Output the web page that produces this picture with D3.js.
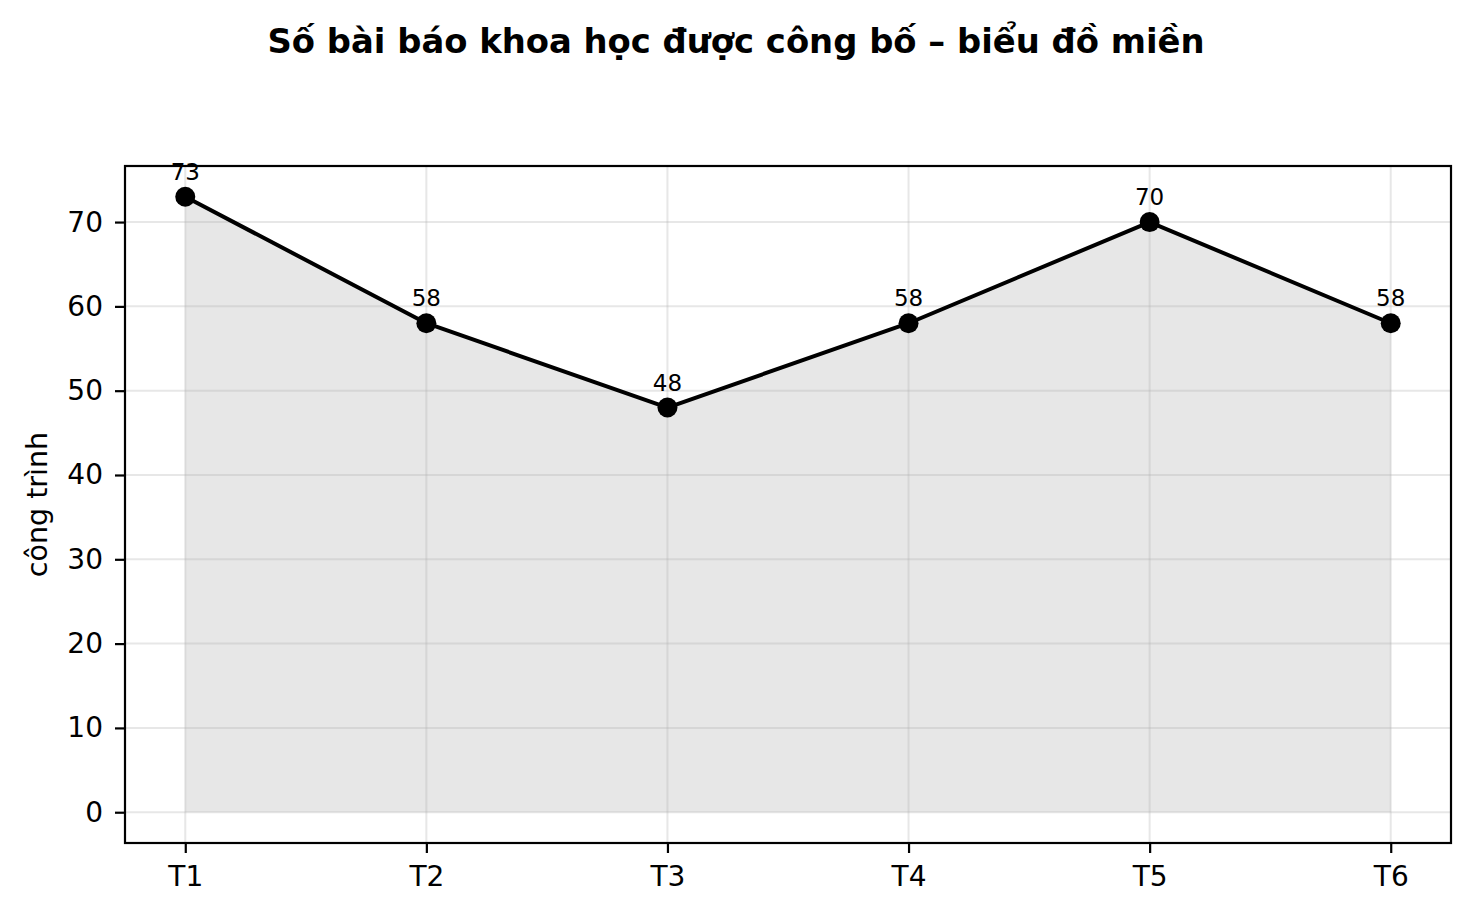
<!DOCTYPE html>
<html lang="vi">
<head>
<meta charset="UTF-8">
<script src="https://d3js.org/d3.v7.min.js"></script>
<style>
  body { margin: 0; background: #fff; font-family: "DejaVu Sans", sans-serif; }
  svg { display: block; }
</style>
</head>
<body>
<svg id="chart" width="1472" height="914"></svg>
<script>
const categories = ["T1", "T2", "T3", "T4", "T5", "T6"];
const values = [73, 58, 48, 58, 70, 58];
const yTicks = [0, 10, 20, 30, 40, 50, 60, 70];

const svg = d3.select("#chart");
const margin = { top: 166, right: 21, bottom: 71, left: 125 };
const W = 1472, H = 914;
const width = W - margin.left - margin.right;
const height = H - margin.top - margin.bottom;

const x = d3.scaleLinear()
    .domain([-0.25, categories.length - 1 + 0.25])
    .range([0, width]);
const y = d3.scaleLinear()
    .domain([-3.65, 76.65])
    .range([height, 0]);

const data = values.map((v, i) => ({ cat: categories[i], i, v }));

svg.append("text")
    .attr("x", W / 2)
    .attr("y", 53)
    .attr("text-anchor", "middle")
    .style("font-size", "33.8px")
    .style("font-weight", "bold")
    .text("Số bài báo khoa học được công bố – biểu đồ miền");

const g = svg.append("g").attr("transform", `translate(${margin.left},${margin.top})`);

// area fill
g.append("path")
    .datum(data)
    .attr("fill", "#e7e7e7")
    .attr("d", d3.area().x(d => x(d.i)).y0(y(0)).y1(d => y(d.v)));

// grid
const grid = g.append("g").attr("stroke", "rgba(176,176,176,0.3)").attr("stroke-width", 2);
grid.selectAll(".gx").data(categories).enter().append("line")
    .attr("x1", (d, i) => x(i)).attr("x2", (d, i) => x(i))
    .attr("y1", 0).attr("y2", height);
grid.selectAll(".gy").data(yTicks).enter().append("line")
    .attr("x1", 0).attr("x2", width)
    .attr("y1", d => y(d)).attr("y2", d => y(d));

// line
g.append("path")
    .datum(data)
    .attr("fill", "none")
    .attr("stroke", "#000")
    .attr("stroke-width", 4)
    .attr("stroke-linejoin", "round")
    .attr("d", d3.line().x(d => x(d.i)).y(d => y(d.v)));

g.selectAll(".dot").data(data).enter().append("circle")
    .attr("cx", d => x(d.i))
    .attr("cy", d => y(d.v))
    .attr("r", 10)
    .attr("fill", "#000");

g.selectAll(".lbl").data(data).enter().append("text")
    .attr("x", d => x(d.i))
    .attr("y", d => y(d.v) - 17)
    .attr("text-anchor", "middle")
    .style("font-size", "23px")
    .text(d => d.v);

// axes
const xAxis = g.append("g")
    .attr("transform", `translate(0,${height})`)
    .call(d3.axisBottom(x).tickValues(d3.range(categories.length))
        .tickFormat(i => categories[i]).tickSize(10).tickPadding(13));
const yAxis = g.append("g")
    .call(d3.axisLeft(y).tickValues(yTicks).tickSize(10).tickPadding(12));
[xAxis, yAxis].forEach(a => {
    a.select(".domain").remove();
    a.selectAll(".tick line").attr("stroke-width", 2.2);
    a.selectAll(".tick text")
        .style("font-family", "DejaVu Sans, sans-serif")
        .style("font-size", "28px")
        .attr("fill", "#000");
});

g.append("rect")
    .attr("width", width).attr("height", height)
    .attr("fill", "none").attr("stroke", "#000").attr("stroke-width", 2.2);

svg.append("text")
    .attr("transform", `translate(47,${margin.top + height / 2}) rotate(-90)`)
    .attr("text-anchor", "middle")
    .style("font-size", "28.5px")
    .text("công trình");
</script>
</body>
</html>
